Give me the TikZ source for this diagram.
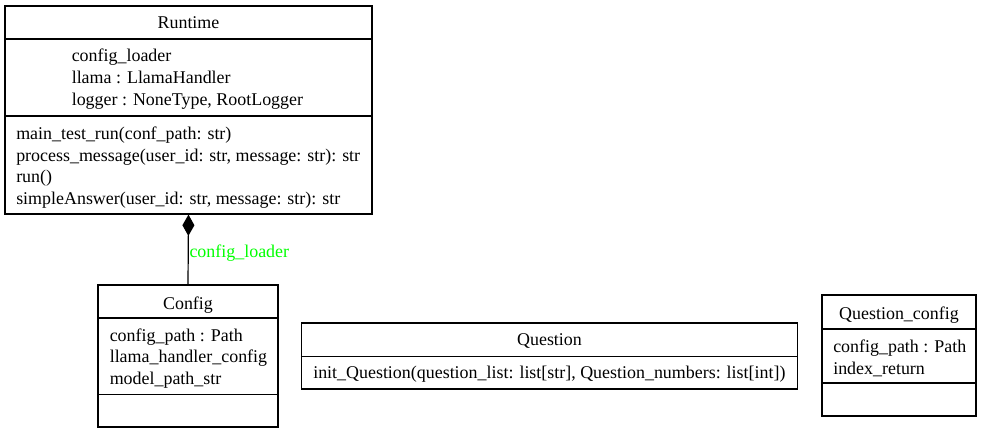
\documentclass[tikz,border=0pt]{standalone}
\usepackage{fontspec}
\setmainfont{Liberation Serif}
\usetikzlibrary{arrows.meta}
\tikzset{
	classbox/.style={draw, line width=0.9pt, inner sep=0pt},
	line/.style={anchor=base west, inner sep=0pt},
	title/.style={anchor=base, inner sep=0pt},
	every node/.style={font=\fontsize{13.45}{16}\selectfont}
}
\begin{document}
\begin{tikzpicture}[x=0.75pt,y=-0.75pt]
		\useasboundingbox (0,0) rectangle (982,433);
		% boxes
		\node[classbox, minimum width=367*0.75pt, minimum height=208*0.75pt] (runtime) at (188.5,110) {};
		\node[classbox, minimum width=180*0.75pt, minimum height=142*0.75pt] (config) at (188,356) {};
		\node[classbox, minimum width=496*0.75pt, minimum height=66*0.75pt] (question) at (549.5,356) {};
		\node[classbox, minimum width=154*0.75pt, minimum height=121*0.75pt] (qconfig) at (899,355.5) {};
		% compartments
		\draw[line width=0.9pt] (runtime.west |- 0,39) -- (runtime.east |- 0,39);
		\draw[line width=0.9pt] (runtime.west |- 0,116) -- (runtime.east |- 0,116);
		\draw[line width=0.9pt] (config.west |- 0,318) -- (config.east |- 0,318);
		\draw[line width=0.9pt] (config.west |- 0,394.5) -- (config.east |- 0,394.5);
		\draw[line width=0.9pt] (question.west |- 0,356.5) -- (question.east |- 0,356.5);
		\draw[line width=0.9pt] (qconfig.west |- 0,329) -- (qconfig.east |- 0,329);
		\draw[line width=0.9pt] (qconfig.west |- 0,383) -- (qconfig.east |- 0,383);
		% Runtime
		\node[title] (rttitle) at (188.5,28) {Runtime};
		\node[line] (rtattr1) at (71.5,61) {config\_loader};
		\node[line] (rtattr2) at (71.5,83) {llama : LlamaHandler};
		\node[line] (rtattr3) at (71.5,105) {logger : NoneType, RootLogger};
		\node[line] (rtop1) at (16,139.5) {main\_test\_run(conf\_path: str)};
		\node[line] (rtop2) at (16,161) {process\_message(user\_id: str, message: str): str};
		\node[line] (rtop3) at (16,182.5) {run()};
		\node[line] (rtop4) at (16,204) {simpleAnswer(user\_id: str, message: str): str};
		% Config
		\node[title] (cftitle) at (188,309) {Config};
		\node[line] (cfattr1) at (109.5,341) {config\_path : Path};
		\node[line] (cfattr2) at (109.5,362.5) {llama\_handler\_config};
		\node[line] (cfattr3) at (109.5,384) {model\_path\_str};
		% Question
		\node[title] (qtitle) at (549.5,345.5) {Question};
		\node[line] (qop1) at (313,378.5) {init\_Question(question\_list: list[str], Question\_numbers: list[int])};
		% Question_config
		\node[title] (qctitle) at (899,319) {Question\_config};
		\node[line] (qcattr1) at (833,352) {config\_path : Path};
		\node[line] (qcattr2) at (833,374) {index\_return};
		% composition
		\draw[line width=0.9pt, -{Diamond[length=16pt, width=9pt]}] (config.north) to node[right, pos=0.5, text=green, inner sep=0pt, xshift=0.5pt, yshift=-3pt] (cflabel) {config\_loader} (runtime.south);
	\end{tikzpicture}
\end{document}
